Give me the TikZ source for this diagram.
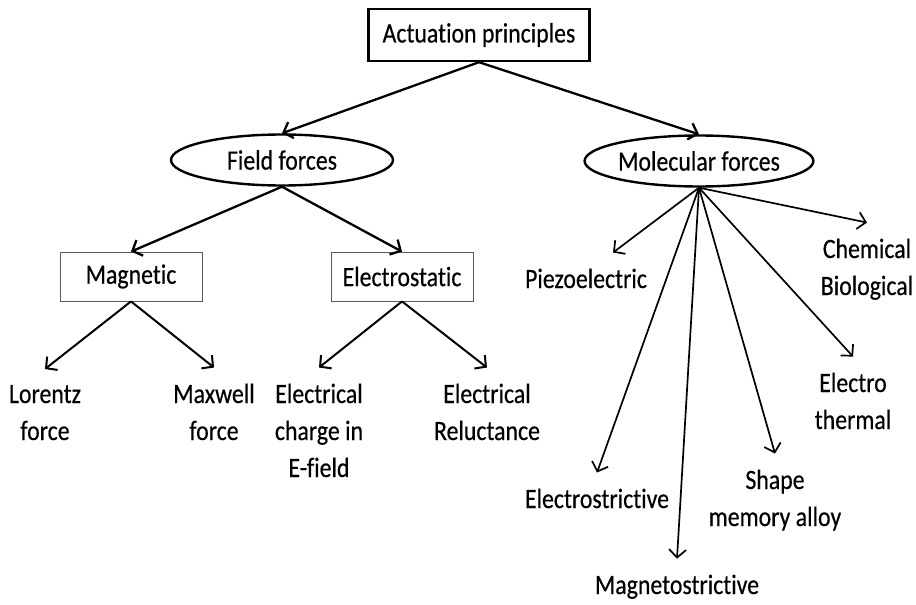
\documentclass[tikz,border=0pt]{standalone}
\usepackage{fontspec}
\setmainfont{Carlito}[FakeStretch=0.85, FakeBold=0.4, Ligatures=CommonOff]
\usetikzlibrary{arrows.meta, shapes.geometric, positioning}
\tikzset{
	auto, semithick,
	root/.style ={rectangle, draw, line width=2.4pt, minimum width=221pt, minimum height=52pt},
	field/.style ={ellipse, draw, line width=2.4pt, minimum width=222pt, minimum height=51pt, inner sep=0pt},
	kind/.style ={rectangle, draw=black!65, line width=0.8pt, minimum width=142pt, minimum height=49pt},
	leaf/.style = {align=center, anchor=base, inner sep=0pt, outer xsep=0pt, outer ysep=16pt},
	arr/.style = {-{Straight Barb[length=8pt, width=17pt]}, line width=2.3pt},
	thinarr/.style = {-{Straight Barb[length=8pt, width=17pt]}, line width=1.7pt}
}
\begin{document}
\begin{tikzpicture}[x=1pt, y=-1pt, font=\fontsize{28}{37}\selectfont]
		\useasboundingbox (0,0) rectangle (916,605);
		\node[root] (act) at (479, 35) {Actuation principles};
		\node[field] (ff) at (282, 160) {Field forces};
		\node[field] (mf) at (699, 161) {Molecular forces};
		\node[kind] (mag) at (131, 276.5) {Magnetic};
		\node[kind] (est) at (402, 276.5) {Electrostatic};

		% base is the last line
		\node[leaf] (lor) at (45, 440) {Lorentz\\force};
		\node[leaf] (max) at (214, 440) {Maxwell\\force};
		\node[leaf] (chg) at (319, 477) {Electrical\\charge in\\E-field};
		\node[leaf] (rel) at (487, 440) {Electrical\\Reluctance};

		\node[leaf] (pzo) at (586, 288) {Piezoelectric};
		\node[leaf] (chb) at (867, 295) {Chemical\\Biological};
		\node[leaf] (eth) at (853, 429) {Electro\\thermal};
		\node[leaf] (sma) at (775, 526) {Shape\\memory alloy};
		\node[leaf] (esv) at (597, 508) {Electrostrictive};
		\node[leaf] (msv) at (677, 594) {Magnetostrictive};

		% Directed edge
		\path[arr] (act.south) edge (ff.north) edge (mf.north);
		\path[arr] (ff.south) edge (mag.north) edge (est.north);
		\path[thinarr, line width=2pt] (mag.south) edge (lor.north) edge (max.north);
		\path[thinarr, line width=2pt] (est.south) edge (chg.north) edge (rel.north);
		\path[thinarr] (mf.south) edge ([xshift=27pt]pzo.north) edge (chb.north) edge (eth.north)
			edge (sma.north) edge (esv.north) edge (msv.north);
\end{tikzpicture}
\end{document}
